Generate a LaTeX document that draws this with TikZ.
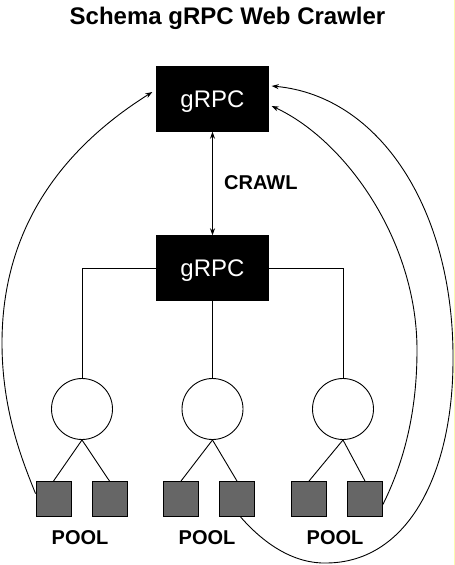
\documentclass[tikz,border=0pt]{standalone}
\usepackage{fontspec}
\setmainfont{Liberation Sans}
\usetikzlibrary{arrows.meta,calc}
\definecolor{poolgray}{RGB}{102,102,102}
\definecolor{edgeyellow}{RGB}{250,250,175}
\begin{document}
\begin{tikzpicture}[x=1pt,y=-1pt,
  rpcbox/.style={draw=black,fill=black,minimum width=112pt,minimum height=65pt,inner sep=0pt,text=white,font=\fontsize{24}{28}\selectfont,text depth=0pt},
  procnode/.style={circle,draw=black,line width=0.9pt,fill=white,minimum size=61pt,inner sep=0pt},
  poolsq/.style={draw=black,line width=0.9pt,fill=poolgray,minimum size=35pt,inner sep=0pt},
  lbl/.style={font=\fontsize{20}{24}\selectfont\bfseries,inner sep=0pt,text depth=0pt},
  conn/.style={draw=black,line width=0.9pt},
  arr/.style={-{Stealth[length=7pt,width=5pt]}},
  dblarr/.style={{Stealth[length=7pt,width=5pt]}-{Stealth[length=7pt,width=5pt]}},
]
\useasboundingbox (0,0) rectangle (455,565);
\fill[white] (0,0) rectangle (455,565);
\fill[edgeyellow] (453.5,0) rectangle (455,565);

\node[font=\fontsize{24}{28}\selectfont\bfseries,text depth=0pt,inner sep=0pt] (title) at (227.5,16) {Schema gRPC Web Crawler};

\node[rpcbox] (top) at (212.5,99) {gRPC};
\node[rpcbox] (mid) at (212.5,268) {gRPC};
\node[lbl,anchor=west] (crawl) at (224,183) {CRAWL};

\draw[conn,dblarr] (top.south) -- (mid.north);

\node[procnode] (c1) at (82,409) {};
\node[procnode] (c2) at (212.5,409) {};
\node[procnode] (c3) at (343,409) {};

\draw[conn] (mid.west) -| (c1.north);
\draw[conn] (mid.south) -- (c2.north);
\draw[conn] (mid.east) -| (c3.north);

\node[poolsq] (s1) at (53.5,499) {};
\node[poolsq] (s2) at (109.5,499) {};
\node[poolsq] (s3) at (181,499) {};
\node[poolsq] (s4) at (237,499) {};
\node[poolsq] (s5) at (309,499) {};
\node[poolsq] (s6) at (365,499) {};

\draw[conn] (c1.south) -- (s1.north);
\draw[conn] (c1.south) -- (s2.north);
\draw[conn] (c2.south) -- (s3.north);
\draw[conn] (c2.south) -- (s4.north);
\draw[conn] (c3.south) -- (s5.north);
\draw[conn] (c3.south) -- (s6.north);

\node[lbl] (p1) at (80,537.5) {POOL};
\node[lbl] (p2) at (207,537.5) {POOL};
\node[lbl] (p3) at (335,537.5) {POOL};

\coordinate (a1s) at ($(s1.north west)!0.35!(s1.south west)$);
\coordinate (a1e) at ($(top.west)+(-4,-7)$);
\coordinate (a2s) at ($(s6.north east)!0.65!(s6.south east)$);
\coordinate (a2e) at ($(top.east)+(3,7)$);
\coordinate (a3s) at ($(s4.south west)!0.6!(s4.south east)$);
\coordinate (a3e) at ($(top.east)+(3,-13)$);

% left pool to top gRPC
\draw[conn,arr] (a1s) .. controls (22,460) and (2,410) .. (2,343) .. controls (2,230) and (60,150) .. (a1e);
% right pool to top gRPC (inner curve)
\draw[conn,arr] (a2s) .. controls (405,460) and (417,410) .. (417,350) .. controls (417,240) and (345,140) .. (a2e);
% middle pool around the bottom to top gRPC (outer curve)
\draw[conn,arr] (a3s) .. controls (265,545) and (295,564) .. (327,563) .. controls (410,562) and (453,470) .. (453,360) .. controls (454,210) and (380,96) .. (a3e);
\end{tikzpicture}
\end{document}
